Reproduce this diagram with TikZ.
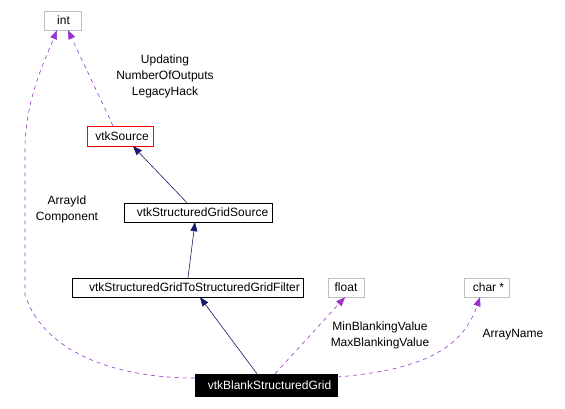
\documentclass[tikz,border=0pt]{standalone}
\usepackage{fontspec}
\setmainfont{Liberation Sans}
\usetikzlibrary{arrows.meta}
\definecolor{navy}{HTML}{191970}
\definecolor{purp}{HTML}{9A32CD}
\definecolor{grayb}{HTML}{BFBFBF}
\newcommand{\tsh}[1]{\hspace*{#1}}
\begin{document}
\begin{tikzpicture}[x=1pt,y=-1pt,
  box/.style={draw=black,rectangle,inner sep=0pt,font=\fontsize{12}{14}\selectfont},
  graybox/.style={box,draw=grayb},
  lbl/.style={align=center,inner sep=0pt,font=\fontsize{12}{16}\selectfont},
  inh/.style={draw=navy,line width=0.6pt,-{Triangle[length=9pt,width=7pt,fill=navy]}},
  use/.style={draw=purp,line width=0.6pt,dash pattern=on 4pt off 4pt,-{Triangle[length=9pt,width=7pt,fill=purp]}}]
\useasboundingbox (0,0) rectangle (565,408);
\node[graybox,minimum width=37pt,minimum height=19pt] (int) at (62.5,20.5) {\tsh{2pt}int};
\node[box,draw=red,minimum width=66pt,minimum height=20pt] (src) at (120,136) {\tsh{4pt}vtkSource};
\node[box,minimum width=148pt,minimum height=19pt] (sgs) at (198,212.5) {\tsh{9pt}vtkStructuredGridSource};
\node[box,minimum width=231pt,minimum height=19pt] (filt) at (187.5,287.5) {\tsh{14pt}vtkStructuredGridToStructuredGridFilter};
\node[graybox,minimum width=36pt,minimum height=19pt] (flt) at (346,287.5) {float};
\node[graybox,minimum width=45pt,minimum height=19pt] (chr) at (486.5,287.5) {\tsh{4pt}char *};
\node[box,fill=black,text=white,minimum width=142pt,minimum height=22pt] (blank) at (266,385) {\tsh{7pt}vtkBlankStructuredGrid};
\coordinate (l1) at (25,295);
\coordinate (l2) at (25,150);
\draw[use] ([xshift=-7pt]src.north) -- ([xshift=5.5pt]int.south);
\draw[use] ([yshift=7pt]blank.west) .. controls (120,378) and (45,355) .. (l1) -- (l2) .. controls (25,100) and (45,60) .. ([xshift=-5.5pt]int.south);
\draw[inh] ([xshift=-11pt]sgs.north) -- ([xshift=13pt]src.south);
\draw[inh] ([xshift=0.5pt]filt.north) -- ([xshift=-3pt]sgs.south);
\draw[inh] ([xshift=-9pt]blank.north) -- ([xshift=12.5pt]filt.south);
\draw[use] ([xshift=9pt]blank.north) -- ([xshift=-1pt]flt.south);
\draw[use] ([yshift=8pt]blank.east) .. controls (420,370) and (462,350) .. ([xshift=-6.5pt]chr.south);
\node[lbl] (lab1) at (165,76) {Updating\\NumberOfOutputs\\LegacyHack};
\node[lbl] (lab2) at (67,209) {ArrayId\\Component};
\node[lbl] (lab3) at (380,335) {MinBlankingValue\\MaxBlankingValue};
\node[lbl] (lab4) at (513,335) {ArrayName};
\end{tikzpicture}
\end{document}
